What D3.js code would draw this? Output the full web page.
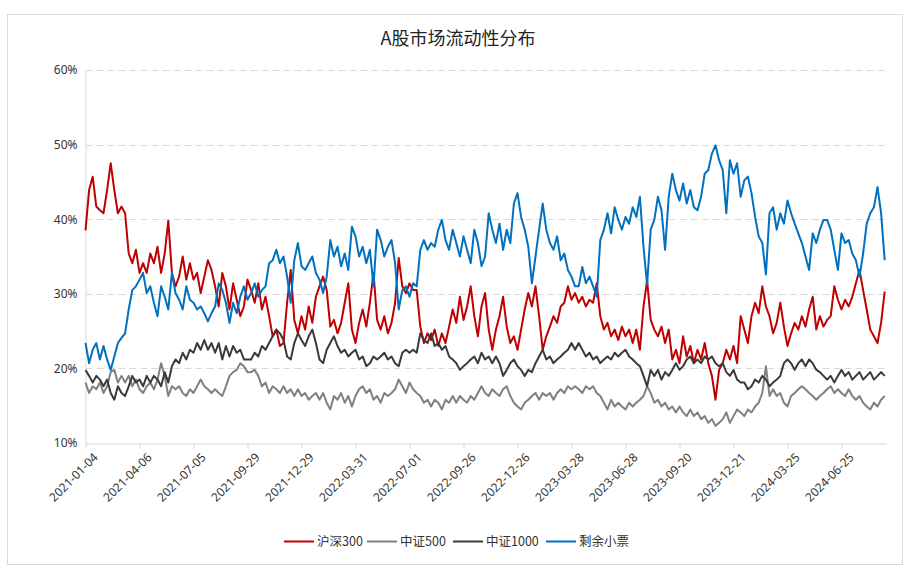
<!DOCTYPE html>
<html><head><meta charset="utf-8">
<script src="https://cdn.jsdelivr.net/npm/d3@7"></script>
<style>
html,body{margin:0;padding:0;background:#fff;}
text{font-family:"Segoe UI","Noto Sans","Noto Sans CJK SC",sans-serif;}
</style></head>
<body>
<svg id="chart" width="917" height="575"></svg>
<script>
// ---- data (values in %, one point every STEP trading days) ----
const STEP = 4;
const TOTAL_DAYS = 890;
const seriesNames = ["沪深300", "中证500", "中证1000", "剩余小票"];
const tickLabels = ["2021-01-04","2021-04-06","2021-07-05","2021-09-29","2021-12-29","2022-03-31","2022-07-01","2022-09-26","2022-12-26","2023-03-28","2023-06-28","2023-09-20","2023-12-21","2024-03-25","2024-06-25"];
const tickIndex = [0,60,120,180,240,300,360,420,480,540,600,660,720,780,840];
const yTicks = [10,20,30,40,50,60];

const hs300 = [38.5,43.9,45.7,41.7,41.2,40.8,43.9,47.5,43.9,40.8,41.7,40.8,35.4,34.1,35.9,32.8,34.1,32.8,35.4,34.1,36.3,32.8,35.4,39.8,32.8,31,32.3,35,31.9,34.1,31.9,32.8,30.1,32.3,34.5,33.2,31,28.3,32.8,31,27.9,31.4,29.2,27,28.3,31.9,
30.5,28.8,31.4,27.9,29.6,27,24.3,25.2,23,23.4,28.8,33.2,26.5,24.7,27,25.2,28.3,26.1,29.6,31,32.3,30.5,25.6,26.5,24.7,26.1,28.8,31.4,25.2,23.4,26.1,27.9,25.6,28.8,32.8,26.5,25.2,27,24.7,26.1,28.8,34.8,31,30.1,31.4,30.5,
30.5,25.6,23.4,24.7,23.8,25.2,23,24.7,23.4,25.6,27.9,26.1,29.6,26.5,28.3,31,27,24.3,28.3,30.1,25.2,22.5,25.2,27,29.6,25.6,23.4,24.3,22.5,25.2,27.9,30.1,28.3,31,27,22.5,24.3,25.6,27,26.1,28.3,28.8,31,29.2,30.1,
28.8,29.6,28.3,29.2,28.8,31.4,27,25.2,26.1,24.3,25.2,23.8,25.6,24.3,25.2,23.4,25.2,22.5,28.3,31.8,26.5,25.2,24.3,25.6,23.4,25.2,21.2,22.5,20.7,24.3,21.6,23,20.7,22.5,21.2,23.4,20.7,19,15.8,19.8,20.7,22.5,21.2,23,20.7,27,
25.2,23.4,27,28.8,27.4,31,28.3,27,24.7,26.1,28.8,25.6,23,24.7,26.1,25.2,27,25.6,27.9,29.6,25.2,27,25.6,26.5,27,31,29.2,27.9,29.2,28.3,29.6,31.4,33.2,30.5,27.9,25.2,24.3,23.4,26.1,30.3];

const csi500 = [18.1,16.7,17.6,17.2,18.1,16.7,17.6,19.5,19.8,18.1,19,18.1,19,17.6,18.5,17.2,16.7,17.6,18.1,17.2,18.5,20.7,19,16.3,17.6,17.2,17.6,16.7,16.3,17.2,16.7,17.6,18.5,17.6,17.2,16.7,17.2,16.7,16.3,17.6,19,19.5,19.8,20.7,20.3,19.5,
19.5,19.8,19,17.6,18.1,16.7,17.6,17.2,16.7,17.6,16.7,17.2,16.3,17.2,16.3,16.7,15.8,16.3,16.7,15.8,16.7,15.4,14.5,16.3,15.8,16.7,15.4,16.3,14.9,16.3,17.2,17.6,16.7,17.2,15.8,16.3,15.4,16.7,16.3,16.7,17.2,18.5,17.6,16.7,18.1,17.2,
16.7,16.3,15.4,15.8,14.9,15.8,15.4,14.5,15.8,15.4,16.3,15.4,16.3,15.8,15.4,16.3,15.8,16.7,17.6,16.7,16.3,17.2,16.7,16.3,17.2,17.6,16.3,15.4,14.9,14.5,15.4,15.8,16.3,16.7,15.8,16.7,16.3,16.7,15.8,16.7,17.2,16.7,17.6,17.2,17.6,
17.2,16.7,17.6,17.2,17.6,16.7,16.3,15.4,14.5,15.8,14.9,15.4,14.9,14.5,15.4,14.9,15.4,15.8,16.3,17.6,16.7,15.4,15.8,14.9,15.4,14.5,14.9,14.1,14.9,14.1,13.6,14.5,13.6,14.1,13.2,13.6,12.7,13.2,12.3,12.7,13.2,14.1,12.7,13.6,14.5,14.1,
13.6,14.5,14.1,14.9,15.4,16.7,20.3,16.3,17.2,16.3,16.7,15.4,14.9,16.3,16.7,17.2,17.6,17.2,16.7,16.3,15.8,16.3,16.7,17.2,17.6,16.7,17.2,16.7,16.3,17.2,16.3,15.8,16.3,15.4,14.9,14.5,15.4,14.9,15.8,16.3];

const csi1000 = [19.8,19,18.1,19,18.5,17.6,18.5,16.7,15.8,17.6,16.7,16.3,17.6,19,18.1,18.5,17.6,19,18.1,19,18.5,17.6,19.5,18.1,20.3,21.2,20.7,22.1,21.2,22.5,22.1,23.4,22.5,23.8,22.5,23.4,22.1,23.4,21.2,23,21.6,23,22.1,22.5,21.2,21.2,
21.2,22.1,21.6,23,22.5,23.4,24.3,25.2,24.7,23.8,21.6,21.2,23.4,24.7,23.8,23,24.3,25.2,23.4,21.2,20.7,22.5,23.4,24.3,23,22.1,22.5,21.6,22.1,22.5,21.2,21.6,20.3,20.7,21.6,21.2,21.6,22.1,21.2,21.6,20.7,20.3,22.1,22.5,22.1,22.5,
22.1,24.7,23.8,23.4,24.7,23,23.4,22.5,23,21.6,21.2,20.7,19.8,20.3,20.7,21.2,21.6,20.7,22.1,21.2,21.6,20.7,21.6,20.7,19,19.8,20.7,21.2,20.3,19.8,19,19.8,19.5,20.7,21.6,22.5,21.2,21.6,20.7,21.2,21.6,22.1,22.5,23.4,22.5,
23.4,22.5,21.6,22.1,21.2,21.6,20.7,21.2,21.6,21.2,22.1,21.6,22.1,22.5,21.6,21.2,20.7,20.3,19,17.6,19.8,19,19.8,18.5,19.5,19,19.8,20.7,19.8,20.3,21.2,21.6,20.7,21.2,20.7,21.6,21.2,21.6,20.7,20.3,20.7,19.5,19,19.8,18.5,18.1,
18.1,17.2,17.6,18.5,18.1,19,18.5,17.6,18.1,18.5,19,20.7,21.2,20.7,19.8,20.7,21.2,20.3,21.2,20.7,19.8,19.5,19,18.5,19,18.1,19,19.8,19,19.5,18.5,19,19.5,18.5,19,19.5,18.5,19,19.5,19];

const others = [23.4,20.7,22.5,23.4,21.2,23,21.2,19.8,21.6,23.4,24.1,24.7,27.9,30.5,31,31.9,32.8,30.1,31,28.8,27,31,29.6,27.9,32.8,30.1,29.2,27.9,31,29.2,28.8,27.9,28.3,27.4,26.3,27.4,28.3,31.4,30.5,28.8,26.1,28.8,27.4,29.6,31,29.2,
30.1,31.4,29.6,30.5,31,34.1,34.5,35.9,34.1,35,32.3,28.8,34.5,36.8,33.7,33.2,34.1,35,32.8,31.9,30.1,32.3,37.2,35,36.3,33.7,35.4,33.2,39,37.7,35,36.3,34.1,35.9,31,38.6,37.2,35,36.3,37.2,34.1,27.9,30.5,31,29.6,31.4,
31,35.9,37.2,35.9,36.8,36.3,38.6,39.9,37.2,35.9,38.6,36.8,35,37.7,35.9,34.1,38.6,36.8,33.7,35,40.8,38.6,36.8,39.4,35.9,38.6,36.8,42.1,43.5,40.3,38.6,36.3,31.4,35,38.6,42.1,38.6,36.8,35.9,37.7,34.5,35.4,33.2,32.3,31,
31,33.6,31.4,32.3,31,29.6,37.2,38.6,40.8,38.1,41.6,39.9,38.6,40.3,39.4,41.6,40.3,43,36.3,31.2,38.6,39.9,43,41.2,35.9,43,46.1,43.9,42.5,44.8,42.1,43.9,41.6,41.2,43,46.1,46.6,48.8,49.9,47.9,46.6,40.8,47.9,46.1,47.5,43,
45.2,45.7,43.5,40.3,37.7,36.8,32.6,40.8,41.6,38.6,40.8,39.4,42.5,40.8,39.4,38.1,36.8,35,33.2,38.1,36.8,38.6,39.9,39.9,38.6,35.9,33.2,38.1,36.8,37.2,35.4,34.5,32.3,35.4,39.4,40.8,41.6,44.3,40.8,34.5];

const seriesValues = [hs300, csi500, csi1000, others];
const seriesColors = ["#C00000", "#808080", "#3A3A3A", "#0070C0"];

// ---- layout ----
const svg = d3.select("#chart");
const plot = {left: 85.5, right: 886.5, top: 70, bottom: 443};

svg.append("rect").attr("x", 7.5).attr("y", 14.5).attr("width", 895).attr("height", 550)
  .attr("fill", "#fff").attr("stroke", "#D9D9D9").attr("stroke-width", 1);

svg.append("text").attr("x", 458).attr("y", 45).attr("text-anchor", "middle")
  .style("font-family", '"Noto Sans CJK SC","Microsoft YaHei",sans-serif')
  .style("font-size", "18px").attr("fill", "#222").text("A股市场流动性分布");

const x = d3.scaleLinear().domain([0, TOTAL_DAYS]).range([plot.left, plot.right]);
const y = d3.scaleLinear().domain([10, 60]).range([plot.bottom, plot.top]);

// gridlines
svg.append("g").selectAll("line").data(yTicks.filter(d => d > 10)).join("line")
  .attr("x1", plot.left).attr("x2", plot.right)
  .attr("y1", d => Math.round(y(d)) + 0.5).attr("y2", d => Math.round(y(d)) + 0.5)
  .attr("stroke", "#D9D9D9").attr("stroke-width", 1).attr("stroke-dasharray", "7,4");

// y axis
const yAxis = d3.axisLeft(y).tickValues(yTicks).tickFormat(d => d + "%").tickSize(0).tickPadding(8);
const gy = svg.append("g").attr("transform", `translate(${plot.left},0)`).call(yAxis);
gy.select(".domain").attr("stroke", "#D9D9D9");
gy.selectAll("text").style("font-size", "12px").attr("fill", "#333");

// x axis
const xAxis = d3.axisBottom(x).tickValues(tickIndex).tickFormat((d, i) => tickLabels[i]).tickSize(5).tickSizeOuter(0);
const gx = svg.append("g").attr("transform", `translate(0,${plot.bottom + 0.5})`).call(xAxis);
gx.select(".domain").attr("stroke", "#D9D9D9");
gx.selectAll(".tick line").attr("stroke", "#D9D9D9");
gx.selectAll("text").style("font-size", "12px").attr("fill", "#333")
  .attr("text-anchor", "end").attr("dy", "0.35em")
  .attr("transform", "translate(4,6) rotate(-45)");

// lines
const line = d3.line().x((d, i) => x(i * STEP)).y(d => y(d));
seriesValues.forEach((vals, s) => {
  svg.append("path").datum(vals).attr("fill", "none")
    .attr("stroke", seriesColors[s]).attr("stroke-width", 2)
    .attr("stroke-linejoin", "round").attr("d", line);
});

// legend
const legendX = [284, 367, 453, 546];
const lg = svg.append("g");
seriesNames.forEach((name, s) => {
  lg.append("line").attr("x1", legendX[s]).attr("x2", legendX[s] + 30)
    .attr("y1", 541.5).attr("y2", 541.5).attr("stroke", seriesColors[s]).attr("stroke-width", 2);
  lg.append("text").attr("x", legendX[s] + 33).attr("y", 546)
    .style("font-family", '"Noto Sans CJK SC","Microsoft YaHei",sans-serif')
    .style("font-size", "12.5px").attr("fill", "#333").text(name);
});
</script>
</body></html>
